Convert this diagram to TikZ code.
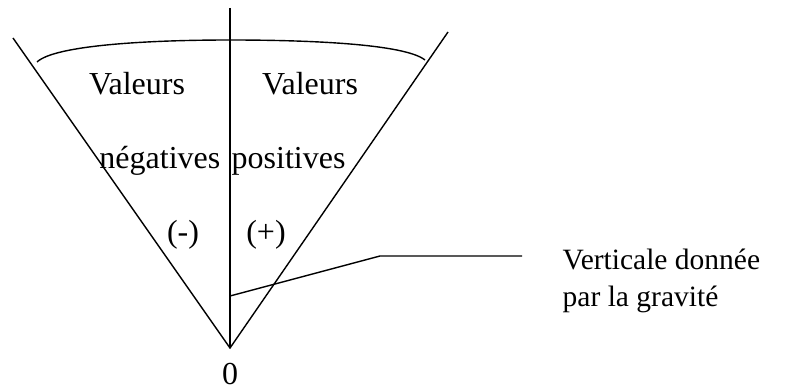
\documentclass[tikz,border=0pt]{standalone}
\usepackage{fontspec}
\setmainfont{Liberation Serif}
\begin{document}
\begin{tikzpicture}[x=1pt,y=-1pt,line width=1.4pt,
  lbl/.style={inner sep=0pt,anchor=base,font=\fontsize{32}{38}\selectfont},
  side/.style={inner sep=0pt,anchor=base west,font=\fontsize{29.5}{36}\selectfont}]
\useasboundingbox (0,0) rectangle (786,390);
\coordinate (O) at (230,348);
\coordinate (T) at (230,8);
\coordinate (L) at (13,38);
\coordinate (R) at (448,32);
\coordinate (A1) at (37,62);
\coordinate (A2) at (230,40);
\coordinate (A3) at (425,60);
\coordinate (P1) at (230,296);
\coordinate (P2) at (380,256);
\coordinate (P3) at (522,256);
\draw (L) -- (O) -- (R);
\draw (T) -- (O);
\draw (A1) .. controls (55,45) and (150,40) .. (A2) .. controls (310,40) and (405,44) .. (A3);
\draw (P1) -- (P2) -- (P3);
\node[lbl] (v1) at (137,95) {Valeurs};
\node[lbl] (v2) at (310,95) {Valeurs};
\node[lbl,anchor=base east] (n) at (221,168) {négatives};
\node[lbl,anchor=base west] (p) at (231,168) {positives};
\node[lbl] (m) at (183,242) {(-)};
\node[lbl] (pl) at (266,242) {(+)};
\node[lbl] (z) at (230,384) {0};
\node[side] (t1) at (562,269) {Verticale donnée};
\node[side] (t2) at (562,306) {par la gravité};
\end{tikzpicture}
\end{document}
